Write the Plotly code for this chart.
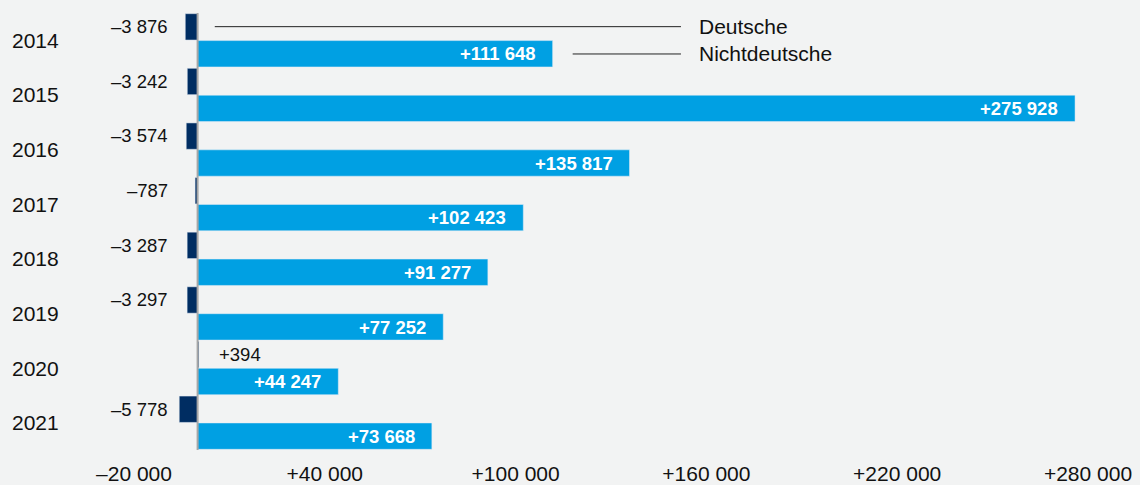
import plotly.graph_objects as go

years = [2014, 2015, 2016, 2017, 2018, 2019, 2020, 2021]
deutsche = [-3876, -3242, -3574, -787, -3287, -3297, 394, -5778]
nichtdeutsche = [111648, 275928, 135817, 102423, 91277, 77252, 44247, 73668]
deutsche_labels = ["–3 876", "–3 242", "–3 574", "–787", "–3 287", "–3 297", "+394", "–5 778"]
nicht_labels = ["+111 648", "+275 928", "+135 817", "+102 423", "+91 277", "+77 252", "+44 247", "+73 668"]
tick_vals = [-20000, 40000, 100000, 160000, 220000, 280000]
tick_text = ["–20 000", "+40 000", "+100 000", "+160 000", "+220 000", "+280 000"]
series_names = ["Deutsche", "Nichtdeutsche"]

NAVY = "#002d62"
BLUE = "#00a0e3"
BG = "#f2f3f3"
FONT = "Liberation Sans, Arial, sans-serif"

fig = go.Figure()
fig.add_trace(go.Bar(y=years, x=deutsche, orientation="h", marker_color=NAVY,
                     name=series_names[0], hoverinfo="x"))
fig.add_trace(go.Bar(y=years, x=nichtdeutsche, orientation="h", marker_color=BLUE,
                     name=series_names[1], hoverinfo="x"))

annotations = []
for yr, v, lab in zip(years, deutsche, deutsche_labels):
    if v < 0:
        annotations.append(dict(x=-8800, y=yr - 0.25, text=lab, xanchor="right", yanchor="middle",
                                showarrow=False, font=dict(size=18.5, color="#111111", family=FONT)))
    else:
        annotations.append(dict(x=6000, y=yr - 0.25, text=lab, xanchor="left", yanchor="middle",
                                showarrow=False, font=dict(size=18.5, color="#111111", family=FONT)))
for yr, v, lab in zip(years, nichtdeutsche, nicht_labels):
    annotations.append(dict(x=v, y=yr + 0.25, text="<b>" + lab + "</b>", xanchor="right", yanchor="middle",
                            xshift=-15, showarrow=False, font=dict(size=18.5, color="white", family=FONT)))
for yr in years:
    annotations.append(dict(x=0, xref="paper", y=yr, text=str(yr), xanchor="left", yanchor="middle",
                            xshift=-124, showarrow=False, font=dict(size=21, color="#111111", family=FONT)))

# legend callouts
LEG_END = 152000
LEG_TEXT = 157000
annotations.append(dict(x=LEG_TEXT, y=years[0] - 0.25, text=series_names[0], xanchor="left", yanchor="middle",
                        showarrow=False, font=dict(size=21, color="#111111", family=FONT)))
annotations.append(dict(x=LEG_TEXT, y=years[0] + 0.25, text=series_names[1], xanchor="left", yanchor="middle",
                        showarrow=False, font=dict(size=21, color="#111111", family=FONT)))

shapes = [
    dict(type="line", xref="x", yref="paper", x0=0, x1=0, y0=0, y1=1,
         line=dict(color="#a6a6a6", width=2), layer="above"),
    dict(type="line", xref="x", yref="y", x0=5400, x1=LEG_END, y0=years[0] - 0.25, y1=years[0] - 0.25,
         line=dict(color="#222222", width=1)),
    dict(type="line", xref="x", yref="y", x0=nichtdeutsche[0] + 6300, x1=LEG_END,
         y0=years[0] + 0.25, y1=years[0] + 0.25, line=dict(color="#222222", width=1)),
]

fig.update_layout(
    width=1140, height=485,
    margin=dict(l=134, r=52, t=13, b=35, autoexpand=False),
    paper_bgcolor=BG, plot_bgcolor=BG,
    barmode="group", bargap=0.015, bargroupgap=0.02,
    showlegend=False,
    font=dict(family=FONT, color="#111111"),
    annotations=annotations, shapes=shapes,
    xaxis=dict(range=[-20000, 280000], tickvals=tick_vals, ticktext=tick_text,
               showgrid=False, zeroline=False, showline=False, automargin=False,
               tickfont=dict(size=21, family=FONT, color="#111111"),
               ticks="outside", ticklen=5, tickcolor="rgba(0,0,0,0)"),
    yaxis=dict(range=[2021.5, 2013.5], showticklabels=False, showgrid=False, zeroline=False,
               showline=False, ticks="", automargin=False),
)

fig.write_html(
    "out.html",
    config={"displayModeBar": False},
    post_script="document.body.style.margin='0';document.body.style.overflow='hidden';"
                "document.body.style.background='" + BG + "';",
)
